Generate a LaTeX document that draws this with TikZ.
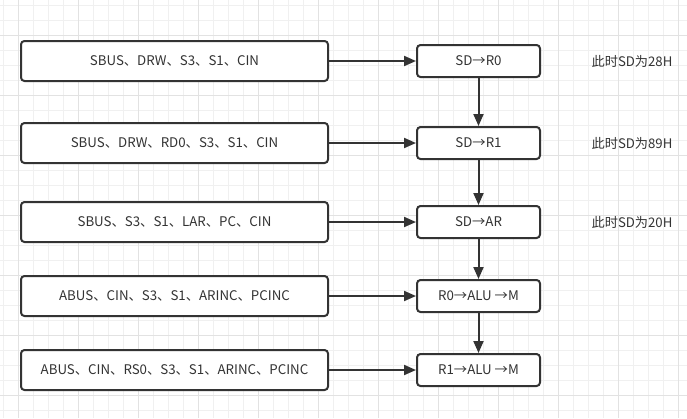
\documentclass[tikz,border=0pt]{standalone}
\usepackage{fontspec}
\setmainfont{Noto Sans CJK SC}
\usetikzlibrary{arrows.meta}
\definecolor{ink}{HTML}{333333}
\definecolor{gridminor}{HTML}{F0F0F0}
\definecolor{gridmajor}{HTML}{E2E2E2}
\begin{document}
\begin{tikzpicture}[x=1pt,y=-1pt,
	cmd/.style={draw=ink,line width=2pt,rounded corners=3.5pt,fill=white,text=ink,
		minimum width=307pt,minimum height=40pt,inner sep=0pt,font=\fontsize{13.3}{16}\selectfont},
	op/.style={cmd,minimum width=123pt,minimum height=32pt},
	flow/.style={draw=ink,line width=2pt,-{Triangle[length=12pt,width=10pt]}},
	note/.style={text=ink,font=\fontsize{13.2}{16}\selectfont}]
	\useasboundingbox (0,0) rectangle (687,418) ;
	\fill[white] (0,0) rectangle (687,418) ;
	% grid
	\foreach \x in {3,18,...,678} \draw[gridminor,line width=1pt] (\x,0)--(\x,418) ;
	\foreach \y in {5,20,...,410} \draw[gridminor,line width=1pt] (0,\y)--(687,\y) ;
	\foreach \x in {18,78,...,678} \draw[gridmajor,line width=1pt] (\x,0)--(\x,418) ;
	\foreach \y in {35,95,...,395} \draw[gridmajor,line width=1pt] (0,\y)--(687,\y) ;
	% signals
	\node[cmd] (c1) at (174.5,61) {SBUS、DRW、S3、S1、CIN} ;
	\node[cmd] (c2) at (174.5,143) {SBUS、DRW、RD0、S3、S1、CIN} ;
	\node[cmd] (c3) at (174.5,222) {SBUS、S3、S1、LAR、PC、CIN} ;
	\node[cmd] (c4) at (174.5,296) {ABUS、CIN、S3、S1、ARINC、PCINC} ;
	\node[cmd] (c5) at (174.5,370) {ABUS、CIN、RS0、S3、S1、ARINC、PCINC} ;
	% micro-operations
	\node[op] (o1) at (478.5,61) {SD→R0} ;
	\node[op] (o2) at (478.5,143) {SD→R1} ;
	\node[op] (o3) at (478.5,222) {SD→AR} ;
	\node[op] (o4) at (478.5,296) {R0→ALU →M} ;
	\node[op] (o5) at (478.5,370) {R1→ALU →M} ;
	\node[note] (n1) at (632,61) {此时SD为28H} ;
	\node[note] (n2) at (632,143) {此时SD为89H} ;
	\node[note] (n3) at (632,222) {此时SD为20H} ;
	\foreach \i in {1,...,5} \draw[flow] (c\i)--(o\i) ;
	\foreach \i/\j in {1/2,2/3,3/4,4/5} \draw[flow] (o\i)--(o\j) ;
\end{tikzpicture}
\end{document}
